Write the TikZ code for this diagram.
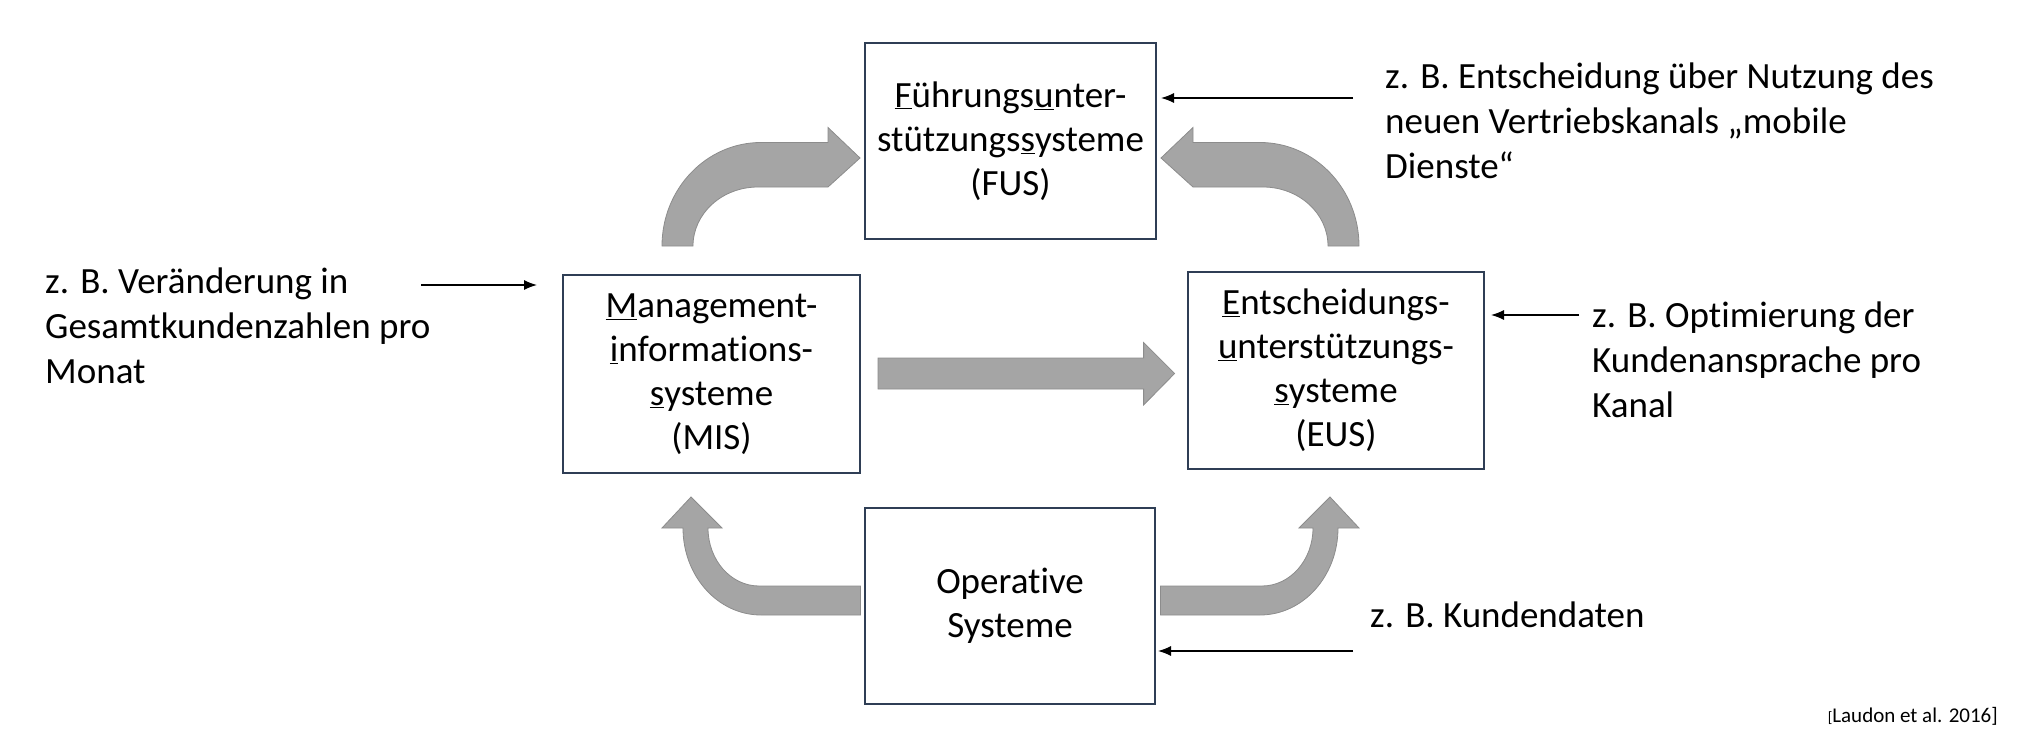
\documentclass[tikz,border=0pt]{standalone}
\usepackage{fontspec}
\setmainfont{Carlito}[RawFeature=-liga]
\usetikzlibrary{arrows.meta}
\definecolor{boxc}{HTML}{2F3E55}
\definecolor{arrf}{HTML}{A5A5A5}
\definecolor{arre}{HTML}{8C8C8C}
\begin{document}
\begin{tikzpicture}[x=1pt,y=-1pt,
  box/.style={draw=boxc,line width=2pt,fill=white,align=center,inner sep=0pt,
    font=\fontsize{37}{44}\selectfont},
  note/.style={align=left,anchor=north west,inner sep=0pt,font=\fontsize{37}{45}\selectfont},
  big/.style={fill=arrf,draw=arre,line width=0.8pt},
  thin/.style={line width=1.3pt,-{Latex[length=13,width=10]}}]
\useasboundingbox (0,0) rectangle (2030,752);
\node[box,minimum width=291,minimum height=196] (fus) at (1010.5,141) {\underline{F}ührungs\underline{u}nter-\\stützungs\underline{s}ysteme\\(FUS)};
\node[box,minimum width=297,minimum height=198] (mis) at (711.5,374) {\underline{M}anagement-\\\underline{i}nformations-\\\underline{s}ysteme\\(MIS)};
\node[box,minimum width=296,minimum height=197] (eus) at (1336,370.5) {\underline{E}ntscheidungs-\\\underline{u}nterstützungs-\\\underline{s}ysteme\\(EUS)};
\node[box,minimum width=290,minimum height=196] (os) at (1010,606) {Operative\\Systeme};
% big arrows
\draw[big] (662,246) arc[start angle=180,end angle=270,x radius=99,y radius=103.5] -- (828,142.5) -- (828,127.5) -- (860,158) -- (828,187) -- (758,187) arc[start angle=270,end angle=180,x radius=65,y radius=59] -- cycle;
\draw[big] (1359,246) arc[start angle=0,end angle=-90,x radius=99,y radius=103.5] -- (1193,142.5) -- (1193,127.5) -- (1161,158) -- (1193,187) -- (1263,187) arc[start angle=-90,end angle=0,x radius=65,y radius=59] -- cycle;
\draw[big] (860.5,615) -- (761,615) arc[start angle=90,end angle=180,x radius=78,y radius=87] -- (683,528) -- (662,528) -- (691,497) -- (722,528) -- (708,528) arc[start angle=180,end angle=90,x radius=51,y radius=58] -- (860.5,586) -- cycle;
\draw[big] (1160.5,615) -- (1260,615) arc[start angle=90,end angle=0,x radius=78,y radius=87] -- (1338,528) -- (1359,528) -- (1330,497) -- (1299,528) -- (1313,528) arc[start angle=0,end angle=90,x radius=51,y radius=58] -- (1160.5,586) -- cycle;
\draw[big] (878,358) -- (1143.6,358) -- (1143.6,342.5) -- (1174.6,373.5) -- (1143.6,405) -- (1143.6,389) -- (878,389) -- cycle;
% notes
\node[note] (t1) at (45,268) {z. B. Veränderung in\\Gesamtkundenzahlen pro\\Monat};
\node[note] (t2) at (1385,63) {z. B. Entscheidung über Nutzung des\\neuen Vertriebskanals „mobile\\Dienste“};
\node[note] (t3) at (1592,302) {z. B. Optimierung der\\Kundenansprache pro\\Kanal};
\node[note] (t4) at (1370,602) {z. B. Kundendaten};
\node[anchor=east,inner sep=0pt,font=\fontsize{21}{25}\selectfont] (src) at (1998,716) {{\fontsize{15}{18}\selectfont[}Laudon et al. 2016]};
% thin arrows
\coordinate (a1) at (421,285); \coordinate (b1) at (537,285);
\coordinate (a2) at (1353,98); \coordinate (b2) at (1161,98);
\coordinate (a3) at (1579,315); \coordinate (b3) at (1491,315);
\coordinate (a4) at (1353,651); \coordinate (b4) at (1158,651);
\draw[thin] (a1) -- (b1);
\draw[thin] (a2) -- (b2);
\draw[thin] (a3) -- (b3);
\draw[thin] (a4) -- (b4);
\end{tikzpicture}
\end{document}
